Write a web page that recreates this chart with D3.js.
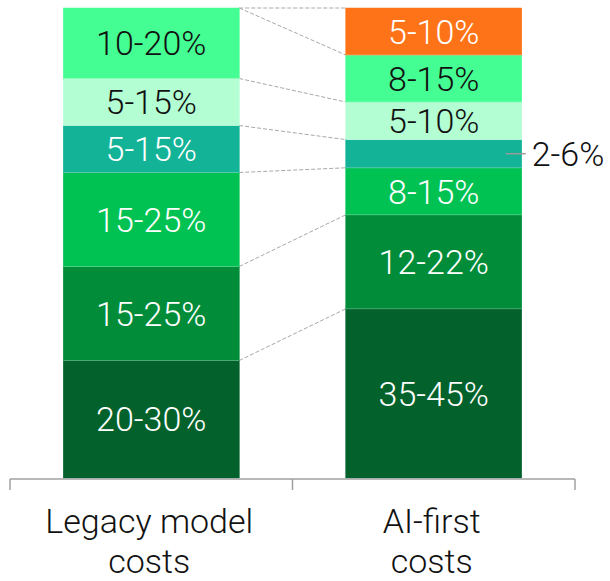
<!DOCTYPE html>
<html>
<head>
<meta charset="utf-8">
<script src="https://cdn.jsdelivr.net/npm/d3@7"></script>
<style>
  body { margin: 0; background: #fff; }
  svg text { font-family: Roboto, "Open Sans", sans-serif; font-weight: 300; }
</style>
</head>
<body>
<div id="chart"></div>
<script>
// categories on the x axis (two lines each)
const categories = ["Legacy model costs", "AI-first costs"];
const categoryLines = [["Legacy model", "costs"], ["AI-first", "costs"]];

// cost layers, bottom to top
const layers = ["layer1", "layer2", "layer3", "layer4", "layer5", "layer6", "layer7"];

// segment sizes (share of total) and their range labels, bottom to top
const legacyValues = [25, 20, 20, 10, 10, 15];
const legacyLabels = ["20-30%", "15-25%", "15-25%", "5-15%", "5-15%", "10-20%"];
const aiValues = [36, 20, 10, 6, 8, 10, 10];
const aiLabels = ["35-45%", "12-22%", "8-15%", "2-6%", "5-10%", "8-15%", "5-10%"];

const colors = {
    layer1: "#03622c",
    layer2: "#018c3a",
    layer3: "#00c253",
    layer4: "#13b397",
    layer5: "#b3fed2",
    layer6: "#45fe93",
    layer7: "#fe7318"
};
const darkText = ["layer5", "layer6"];

const width = 610, height = 581;
const margin = { top: 8, left: 10, right: 35, bottom: 103 };

const svg = d3.select("#chart").append("svg")
    .attr("width", width)
    .attr("height", height);

const x = d3.scaleBand()
    .domain(categories)
    .range([margin.left, width - margin.right]);

const y = d3.scaleLinear()
    .domain([0, 100])
    .range([height - margin.bottom, margin.top]);

const barW = x.bandwidth() * 0.623;

function stackUp(values, labels) {
    let acc = 0;
    return values.map((v, i) => {
        const d = { layer: layers[i], y0: acc, y1: acc + v, label: labels[i] };
        acc += v;
        return d;
    });
}

const series = [
    { cat: categories[0], segs: stackUp(legacyValues, legacyLabels) },
    { cat: categories[1], segs: stackUp(aiValues, aiLabels) }
];

const barX = cat => x(cat) + (x.bandwidth() - barW) / 2;

// dashed connectors between matching layer tops, plus top to top
const left = series[0], right = series[1];
const links = left.segs.map((s, i) => [s.y1, right.segs[i].y1]);
links.push([d3.sum(legacyValues), d3.sum(aiValues)]);

svg.append("g").selectAll("line")
    .data(links)
    .join("line")
    .attr("x1", barX(left.cat) + barW)
    .attr("x2", barX(right.cat))
    .attr("y1", d => y(d[0]))
    .attr("y2", d => y(d[1]))
    .attr("stroke", "#a8a8a8")
    .attr("stroke-width", 1)
    .attr("stroke-dasharray", "4 2");

series.forEach(s => {
    const g = svg.append("g");
    g.selectAll("rect")
        .data(s.segs)
        .join("rect")
        .attr("x", barX(s.cat))
        .attr("width", barW)
        .attr("y", d => y(d.y1))
        .attr("height", d => y(d.y0) - y(d.y1))
        .attr("fill", d => colors[d.layer])
        .attr("stroke", d => colors[d.layer])
        .attr("stroke-width", 0.5);

    // thin separators between segments
    g.selectAll("line.sep")
        .data(s.segs.slice(1))
        .join("line")
        .attr("class", "sep")
        .attr("x1", barX(s.cat))
        .attr("x2", barX(s.cat) + barW)
        .attr("y1", d => y(d.y0))
        .attr("y2", d => y(d.y0))
        .attr("stroke", "#ffffff")
        .attr("stroke-opacity", 0.25)
        .attr("stroke-width", 1);

    g.selectAll("text")
        .data(s.segs.filter(d => y(d.y0) - y(d.y1) > 35))
        .join("text")
        .attr("x", x(s.cat) + x.bandwidth() / 2)
        .attr("y", d => (y(d.y0) + y(d.y1)) / 2)
        .attr("dy", "0.36em")
        .attr("text-anchor", "middle")
        .style("font-size", "34px")
        .style("fill", d => darkText.includes(d.layer) ? "#111" : "#fff")
        .text(d => d.label);
});

// small segment labelled outside with a leader
const small = right.segs.find(d => y(d.y0) - y(d.y1) <= 35);
const smallY = (y(small.y0) + y(small.y1)) / 2;
const bx = barX(right.cat) + barW;
svg.append("line")
    .attr("x1", bx - 16)
    .attr("x2", bx + 4)
    .attr("y1", smallY)
    .attr("y2", smallY)
    .attr("stroke", "#9a9a9a")
    .attr("stroke-width", 1.5);
svg.append("text")
    .attr("x", bx + 10)
    .attr("y", smallY)
    .attr("dy", "0.36em")
    .style("font-size", "34px")
    .style("fill", "#111")
    .text(small.label);

// axis with bracket ticks
const axisY = y(0) + 1;
const axis = svg.append("g");
axis.append("line")
    .attr("x1", x.range()[0])
    .attr("x2", x.range()[1])
    .attr("y1", axisY)
    .attr("y2", axisY)
    .attr("stroke", "#a0a0a0")
    .attr("stroke-width", 1.5);
const tickXs = categories.map(c => x(c)).concat([x.range()[1]]);
axis.selectAll("line.tick")
    .data(tickXs)
    .join("line")
    .attr("class", "tick")
    .attr("x1", d => d)
    .attr("x2", d => d)
    .attr("y1", axisY)
    .attr("y2", axisY + 11)
    .attr("stroke", "#a0a0a0")
    .attr("stroke-width", 1.5);

categories.forEach((c, i) => {
    const t = svg.append("text")
        .attr("text-anchor", "middle")
        .style("font-size", "34px")
        .style("fill", "#111");
    categoryLines[i].forEach((line, j) => {
        t.append("tspan")
            .attr("x", x(c) + x.bandwidth() / 2 - 2)
            .attr("y", 532.5 + j * 40)
            .text(line);
    });
});
</script>
</body>
</html>
